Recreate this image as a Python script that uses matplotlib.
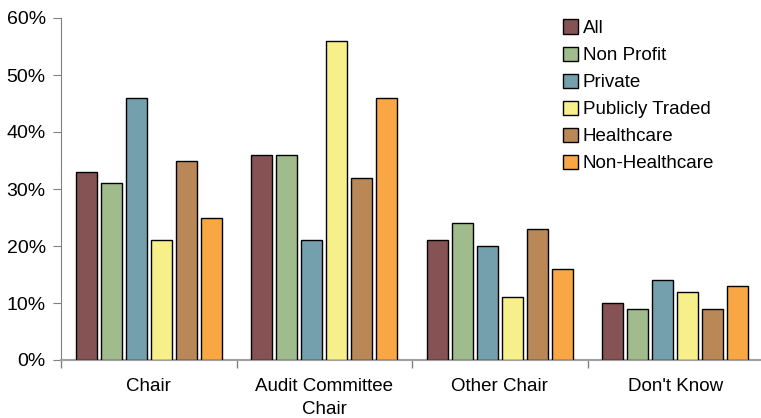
import matplotlib
matplotlib.use("Agg")
import matplotlib.pyplot as plt
import numpy as np
from matplotlib.ticker import FixedLocator, NullFormatter, PercentFormatter

plt.rcParams['font.family'] = ['Liberation Sans', 'DejaVu Sans']

categories = ["Chair", "Audit Committee\nChair", "Other Chair", "Don't Know"]
series_names = ["All", "Non Profit", "Private", "Publicly Traded", "Healthcare", "Non-Healthcare"]
all_vals = [33, 36, 21, 10]
non_profit = [31, 36, 24, 9]
private = [46, 21, 20, 14]
publicly_traded = [21, 56, 11, 12]
healthcare = [35, 32, 23, 9]
non_healthcare = [25, 46, 16, 13]
series_values = [all_vals, non_profit, private, publicly_traded, healthcare, non_healthcare]
colors = ["#855354", "#A0BC8C", "#74A0AE", "#F7F08A", "#B98856", "#F9A745"]

W, H = 761, 418
fig = plt.figure(figsize=(W / 100, H / 100), dpi=100)
left, right, top, bottom = 61, 763, 18, 360
ax = fig.add_axes([left / W, 1 - bottom / H, (right - left) / W, (bottom - top) / H])

x = np.arange(len(categories))
pitch = 0.142
width = 0.12
for i, (name, vals, c) in enumerate(zip(series_names, series_values, colors)):
    offs = (i - 2.5) * pitch
    ax.bar(x + offs, vals, width=width, color=c, edgecolor="black",
           linewidth=1.0, label=name, zorder=3)

ax.set_xlim(-0.5, len(categories) - 0.5)
ax.set_ylim(0, 60)
ax.set_yticks(np.arange(0, 61, 10))
ax.yaxis.set_major_formatter(PercentFormatter(decimals=0))

# category labels centred, tick marks at group boundaries
ax.set_xticks(x)
ax.set_xticklabels(categories, fontsize=13.5, linespacing=1.45)
ax.tick_params(axis='x', which='major', length=0, pad=13)
ax.xaxis.set_minor_locator(FixedLocator(np.arange(-0.5, len(categories), 1.0)))
ax.xaxis.set_minor_formatter(NullFormatter())
ax.tick_params(axis='x', which='minor', length=6, color="#808080", width=1)
ax.tick_params(axis='y', length=6, color="#808080", labelsize=14, pad=5)

for side in ("top", "right"):
    ax.spines[side].set_visible(False)
ax.spines["left"].set_color("#808080")
ax.spines["bottom"].set_color("#A0A0A0")
ax.spines["bottom"].set_linewidth(1.5)

leg = ax.legend(loc="upper left", bbox_to_anchor=(0.691, 1.045), frameon=False,
                fontsize=13.5, handlelength=0.8, handleheight=0.8,
                handletextpad=0.25, labelspacing=0.5)

fig.savefig("out.png", dpi=100)
